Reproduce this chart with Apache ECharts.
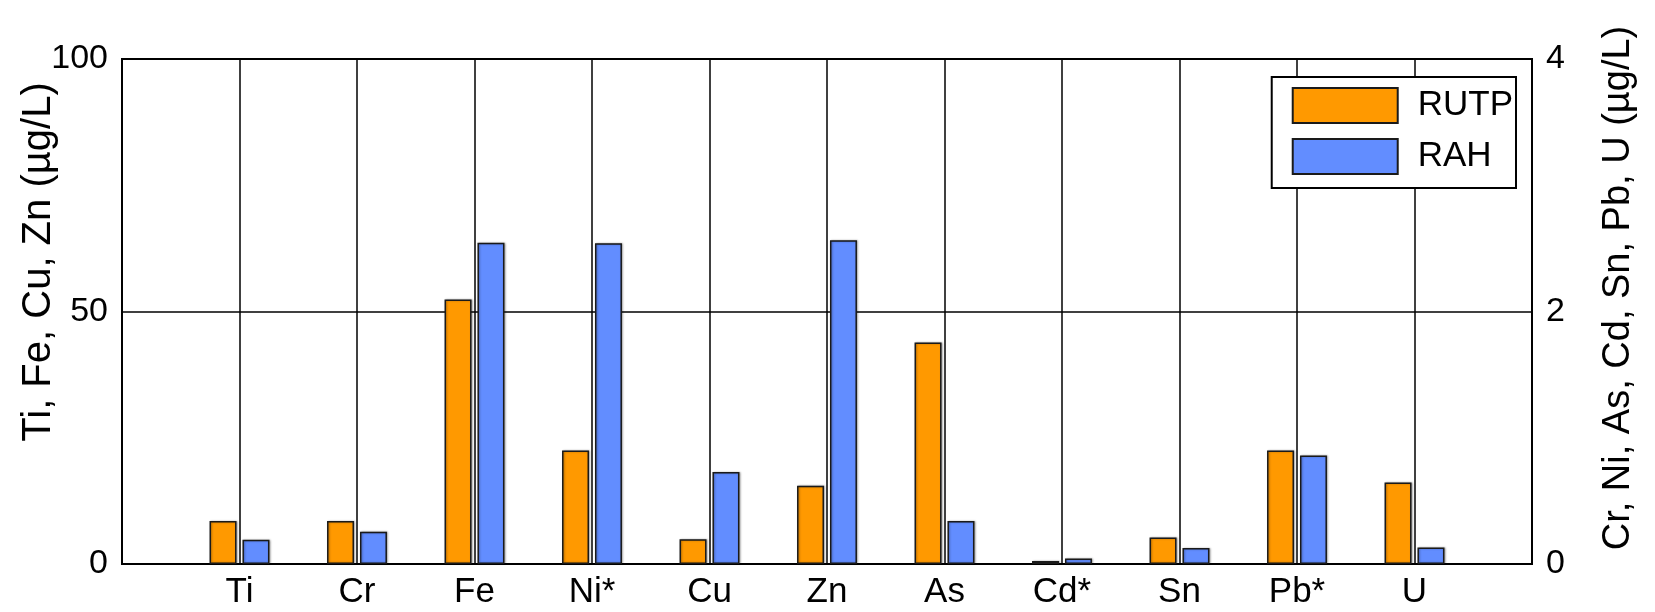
<!DOCTYPE html>
<html>
<head>
<meta charset="utf-8">
<script src="https://cdn.jsdelivr.net/npm/echarts@6/dist/echarts.min.js"></script>
<style>
html,body{margin:0;padding:0;background:#fff;}
#main{width:1655px;height:612px;}
</style>
</head>
<body>
<div id="main"></div>
<script>
// ---- data ----
const categories = ['Ti', 'Cr', 'Fe', 'Ni*', 'Cu', 'Zn', 'As', 'Cd*', 'Sn', 'Pb*', 'U'];
// which y axis each element is read against: 'L' = Ti, Fe, Cu, Zn axis (0-100), 'R' = Cr, Ni, As, Cd, Sn, Pb, U axis (0-4)
const axisSide = ['L', 'R', 'L', 'R', 'L', 'L', 'R', 'R', 'R', 'R', 'R'];
const rutpValues = [8.5, 0.34, 52.4, 0.90, 4.9, 15.5, 1.755, 0.024, 0.21, 0.90, 0.645];
const rahValues  = [4.8, 0.256, 63.6, 2.54, 18.2, 64.1, 0.34, 0.044, 0.127, 0.86, 0.13];
const leftTicks = [0, 50, 100];
const rightTicks = [0, 2, 4];
const leftTitle = 'Ti, Fe, Cu, Zn (µg/L)';
const rightTitle = 'Cr, Ni, As, Cd, Sn, Pb, U (µg/L)';

// ---- build ----
const padCats = [''].concat(categories, ['']);
function pick(values, side) {
  return [null].concat(values.map((v, i) => axisSide[i] === side ? v : null), [null]);
}
const FONT = 'Liberation Sans';
const ORANGE = '#ff9900';
const BLUE = '#628dff';
const barStyle = (c) => ({ color: c, borderColor: '#1a1a1a', borderWidth: 1.5,
  shadowColor: 'rgba(0,0,0,0.3)', shadowBlur: 2, shadowOffsetX: 1, shadowOffsetY: 0 });

const baseSeries = (name, data, xi, yi, color) => ({
  name, type: 'bar', data, xAxisIndex: xi, yAxisIndex: yi,
  barWidth: 27, barGap: '22%', itemStyle: barStyle(color), animation: false
});

const chart = echarts.init(document.getElementById('main'), null, { renderer: 'canvas' });
chart.setOption({
  animation: false,
  backgroundColor: '#fff',
  grid: { left: 122, right: 123, top: 59, bottom: 48, show: true, borderColor: '#000', borderWidth: 2 },
  legend: {
    data: ['RUTP', 'RAH'], orient: 'vertical', right: 139, top: 77,
    itemWidth: 105, itemHeight: 35, itemGap: 14, icon: 'rect',
    backgroundColor: '#fff', borderColor: '#000', borderWidth: 2,
    padding: [10, 3, 13, 20],
    textStyle: { fontFamily: FONT, fontSize: 35, color: '#000', padding: [0, 0, 0, 15] }
  },
  xAxis: [
    { type: 'category', data: padCats, boundaryGap: false, gridIndex: 0,
      axisLine: { show: true, lineStyle: { color: '#000', width: 2 } },
      axisTick: { show: false },
      axisLabel: { interval: 0, fontFamily: FONT, fontSize: 35, color: '#000', margin: 11 },
      splitLine: { show: true, interval: 0, lineStyle: { color: '#000', width: 1.5 } } },
    { type: 'category', data: padCats, boundaryGap: false, gridIndex: 0, show: false }
  ],
  yAxis: [
    { type: 'value', min: 0, max: 100, interval: 50, position: 'left',
      axisLine: { show: true, lineStyle: { color: '#000', width: 2 } },
      axisTick: { show: false },
      axisLabel: { fontFamily: FONT, fontSize: 34, color: '#000', margin: 14,
        formatter: (v) => leftTicks.includes(v) ? String(v) : '' },
      splitLine: { show: true, lineStyle: { color: '#000', width: 1.5 } } },
    { type: 'value', min: 0, max: 4, interval: 2, position: 'right',
      axisLine: { show: true, lineStyle: { color: '#000', width: 2 } },
      axisTick: { show: false },
      axisLabel: { fontFamily: FONT, fontSize: 34, color: '#000', margin: 14,
        formatter: (v) => rightTicks.includes(v) ? String(v) : '' },
      splitLine: { show: false } }
  ],
  graphic: [
    { type: 'text', x: 39, y: 262, rotation: Math.PI / 2,
      style: { text: leftTitle, fontFamily: FONT, fontSize: 40, fill: '#000', align: 'center', verticalAlign: 'middle' } },
    { type: 'text', x: 1619, y: 288, rotation: Math.PI / 2,
      style: { text: rightTitle, fontFamily: FONT, fontSize: 38, fill: '#000', align: 'center', verticalAlign: 'middle' } }
  ],
  series: [
    baseSeries('RUTP', pick(rutpValues, 'L'), 0, 0, ORANGE),
    baseSeries('RAH', pick(rahValues, 'L'), 0, 0, BLUE),
    baseSeries('RUTP', pick(rutpValues, 'R'), 1, 1, ORANGE),
    baseSeries('RAH', pick(rahValues, 'R'), 1, 1, BLUE)
  ]
});
</script>
</body>
</html>
